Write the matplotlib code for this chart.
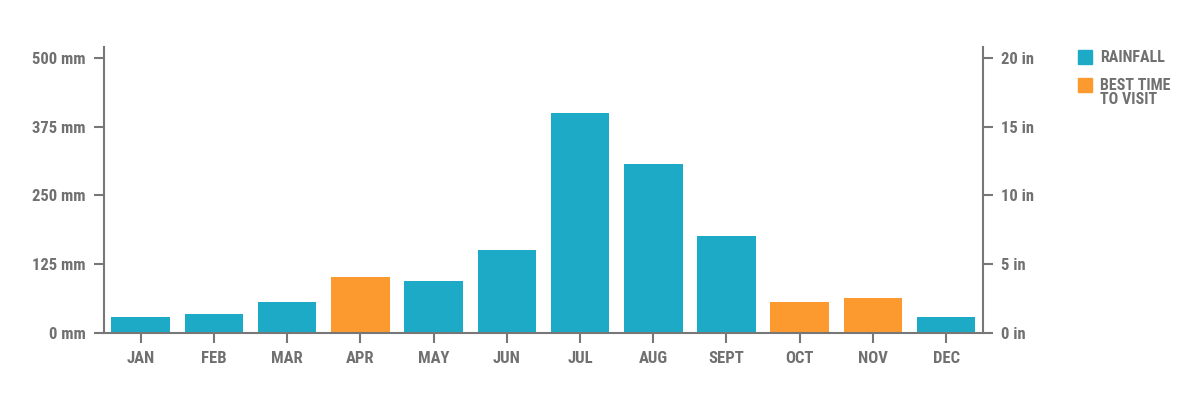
import matplotlib
matplotlib.use('Agg')
import matplotlib.pyplot as plt
from matplotlib import font_manager as fm
from matplotlib.patches import Rectangle

# --- Data ---
months = ["JAN", "FEB", "MAR", "APR", "MAY", "JUN", "JUL", "AUG", "SEPT", "OCT", "NOV", "DEC"]
rainfall_mm = [28, 34, 56, 101, 94, 151, 400, 307, 176, 56, 63, 28]
best_time = [False, False, False, True, False, False, False, False, False, True, True, False]

mm_ticks = [0, 125, 250, 375, 500]
in_ticks = [0, 5, 10, 15, 20]

BLUE = "#1DAAC6"
ORANGE = "#FD9A2F"
GREY = "#777777"
TEXT = "#707070"

# pick a condensed face if one is around, else shrink DejaVu
available = {f.name for f in fm.fontManager.ttflist}
font_size = 12
family = None
for cand in ["Roboto Condensed", "Archivo Narrow", "Liberation Sans Narrow", "Barlow Condensed"]:
    if cand in available:
        family = cand
        break
if family is None:
    family = "DejaVu Sans"
    font_size = 9.5

plt.rcParams.update({
    "font.family": [family, "DejaVu Sans"],
    "font.weight": "bold",
    "font.size": font_size,
})

fig = plt.figure(figsize=(12, 4), dpi=100)
ax = fig.add_axes([0.0867, 0.168, 0.7323, 0.7145])

colors = [ORANGE if b else BLUE for b in best_time]
ax.bar(range(len(months)), rainfall_mm, width=0.8, color=colors, zorder=2)

ax.set_xlim(-0.5, len(months) - 0.5)
ax.set_ylim(0, 520)
ax.set_xticks(range(len(months)))
ax.set_xticklabels(months)
ax.set_yticks(mm_ticks)
ax.set_yticklabels([f"{t} mm" for t in mm_ticks])

ax2 = ax.twinx()
ax2.set_ylim(0, 520 / 25)
ax2.set_yticks(in_ticks)
ax2.set_yticklabels([f"{t} in" for t in in_ticks])

for a in (ax, ax2):
    a.spines["top"].set_visible(False)
    for s in a.spines.values():
        s.set_color(GREY)
        s.set_linewidth(1.5)
    a.tick_params(colors=GREY, labelcolor=TEXT, width=1.5, length=7, pad=6, labelsize=font_size)

ax.spines["right"].set_visible(False)
ax2.spines["left"].set_visible(False)
ax2.spines["bottom"].set_visible(False)

# --- Legend (drawn by hand, one text per line so lines stay flush left) ---
sq = 14 / 1200
legend_items = [(BLUE, ["RAINFALL"], 1 - 64 / 400), (ORANGE, ["BEST TIME", "TO VISIT"], 1 - 92 / 400)]
for col, lines, y0 in legend_items:
    fig.patches.append(Rectangle((1078 / 1200, y0), sq, 14 / 400, transform=fig.transFigure,
                                 color=col, figure=fig))
    for i, line in enumerate(lines):
        fig.text(1100 / 1200, y0 + 14.5 / 400 - i * 15 / 400, line, ha="left", va="top",
                 color=TEXT, fontsize=font_size - 0.5)

fig.savefig("out.png", dpi=100)
